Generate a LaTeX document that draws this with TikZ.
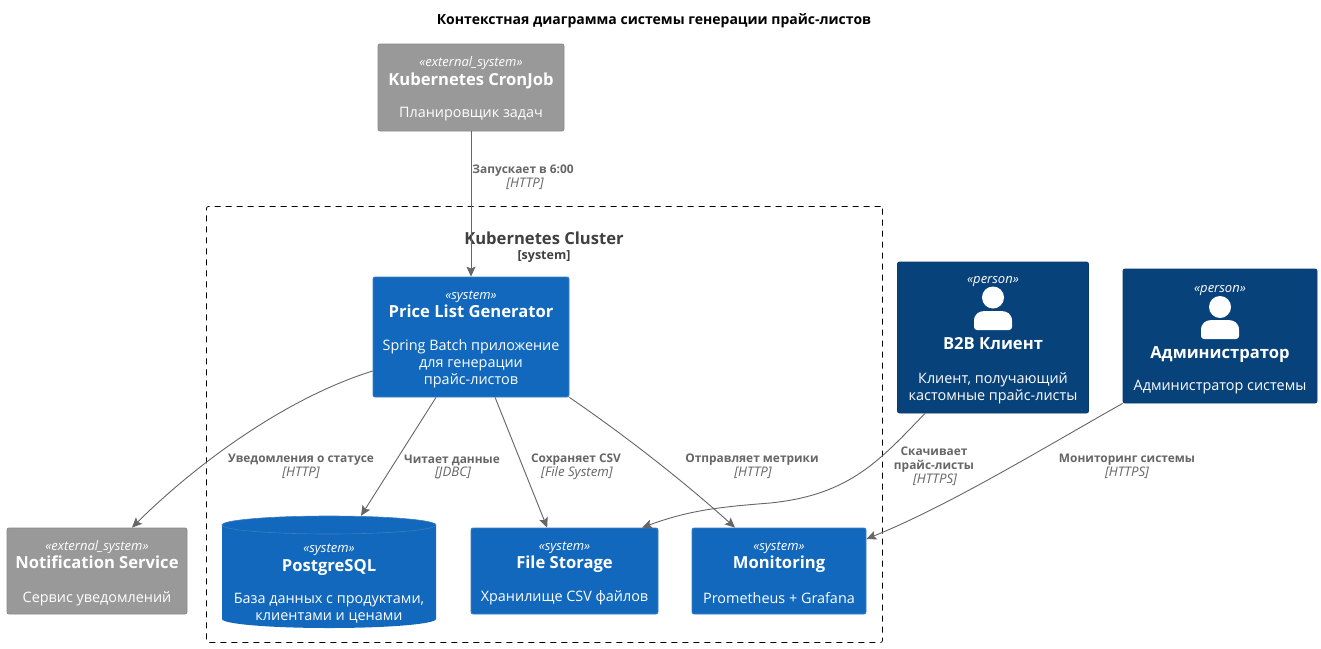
\documentclass[tikz,border=0pt]{standalone}
\usepackage{fontspec}
\setmainfont{Open Sans}
\usepackage{tikz}
\usetikzlibrary{calc}
\usetikzlibrary{arrows.meta}
\definecolor{sysblue}{HTML}{1168BD}
\definecolor{sysline}{HTML}{3C7FC0}
\definecolor{persblue}{HTML}{08427B}
\definecolor{persline}{HTML}{073B6F}
\definecolor{extgray}{HTML}{999999}
\definecolor{extline}{HTML}{8A8A8A}
\definecolor{relgray}{HTML}{666666}
\tikzstyle{box}=[rectangle,rounded corners=2pt,line width=0.8pt,inner sep=0pt]
\tikzstyle{sysbox}=[box,fill=sysblue,draw=sysline]
\tikzstyle{persbox}=[box,fill=persblue,draw=persline]
\tikzstyle{extbox}=[box,fill=extgray,draw=extline]
\tikzstyle{stereo}=[text=white,font=\fontsize{13}{15}\selectfont\itshape,inner sep=0pt,text height=10pt,text depth=3pt,yshift=-0.7pt]
\tikzstyle{boxname}=[text=white,font=\fontsize{16.6}{20}\selectfont\bfseries,inner sep=0pt,text height=12pt,text depth=3.5pt,yshift=-2pt]
\tikzstyle{boxdesc}=[text=white,font=\fontsize{14.4}{17}\selectfont,align=center,inner sep=0pt,yshift=-1.5pt]
\tikzstyle{rel}=[line width=0.9pt,draw=relgray,-{Stealth[length=10pt,width=9pt,inset=2pt]}]
\tikzstyle{rellabel}=[text=relgray,font=\fontsize{11.9}{14}\selectfont\bfseries,align=center,inner sep=0pt,yshift=-2pt]
\tikzstyle{reltech}=[text=relgray,font=\fontsize{13.2}{14}\selectfont\itshape,inner sep=0pt,text height=10pt,text depth=3.5pt,yshift=-1pt]
\begin{document}
\begin{tikzpicture}[x=1pt,y=-1pt]
	\useasboundingbox (0,0) rectangle (1321,648);
	\fill[white] (0,0) rectangle (1321,648);

	\node (title) at (654,21) [font=\fontsize{14}{17}\selectfont\bfseries,inner sep=0pt] {Контекстная диаграмма системы генерации прайс-листов};

	% cluster
	\node (cluster) at (544.5,424.5) [rectangle,rounded corners=2pt,draw=black,dash pattern=on 6pt off 5pt,line width=0.8pt,minimum width=676pt,minimum height=436pt,inner sep=0pt] {};
	\node (clustername) at (544,238.5) [text=black!75,font=\fontsize{16.6}{20}\selectfont\bfseries,inner sep=0pt] {Kubernetes Cluster};
	\node (clustertype) at (544,257) [text=black!75,font=\fontsize{12.5}{14}\selectfont\bfseries,inner sep=0pt] {[system]};

	% boxes
	\node (cron) at (471,87.5) [extbox,minimum width=186pt,minimum height=87pt] {};
	\node (gen) at (471,337) [sysbox,minimum width=196pt,minimum height=120pt] {};
	\node (notify) at (97,571) [extbox,minimum width=180pt,minimum height=86pt] {};
	\node (pg) at (329,572) [rectangle,minimum width=214pt,minimum height=112pt,inner sep=0pt] {};
	\fill[sysblue] (222,525) arc[x radius=107,y radius=9,start angle=180,end angle=360] -- (436,619) arc[x radius=107,y radius=9,start angle=0,end angle=180] -- cycle;
	\draw[sysline,line width=0.6pt] (222,525) arc[x radius=107,y radius=9,start angle=180,end angle=540];
	\node (files) at (564.5,571) [sysbox,minimum width=187pt,minimum height=86pt] {};
	\node (mon) at (779,571) [sysbox,minimum width=174pt,minimum height=86pt] {};
	\node (b2b) at (993,337.5) [persbox,minimum width=191pt,minimum height=151pt] {};
	\node (admin) at (1220,336) [persbox,minimum width=194pt,minimum height=134pt] {};

	% box texts
	\node (cron1) at (471,62) [stereo] {«external\_system»};
	\node (cron2) at (471,79) [boxname] {Kubernetes CronJob};
	\node (cron3) at (471,113) [boxdesc] {Планировщик задач};

	\node (gen1) at (471,295) [stereo] {«system»};
	\node (gen2) at (471,311) [boxname] {Price List Generator};
	\node (gen3) at (471,362) [boxdesc] {Spring Batch приложение\\для генерации\\прайс-листов};

	\node (notify1) at (97,546) [stereo] {«external\_system»};
	\node (notify2) at (97,562) [boxname] {Notification Service};
	\node (notify3) at (97,597) [boxdesc] {Сервис уведомлений};

	\node (pg1) at (329,548) [stereo] {«system»};
	\node (pg2) at (329,565) [boxname] {PostgreSQL};
	\node (pg3) at (329,606.5) [boxdesc] {База данных с продуктами,\\клиентами и ценами};

	\node (files1) at (564.5,546) [stereo] {«system»};
	\node (files2) at (564.5,562) [boxname] {File Storage};
	\node (files3) at (564.5,596.5) [boxdesc] {Хранилище CSV файлов};

	\node (mon1) at (779,546) [stereo] {«system»};
	\node (mon2) at (779,562) [boxname] {Monitoring};
	\node (mon3) at (779,596.5) [boxdesc] {Prometheus + Grafana};

	\node (b2b1) at (993,279) [stereo] {«person»};
	\node (b2b2) at (993,343) [boxname] {B2B Клиент};
	\node (b2b3) at (993,386.5) [boxdesc] {Клиент, получающий\\кастомные прайс-листы};

	\node (admin1) at (1220,288) [stereo] {«person»};
	\node (admin2) at (1220,352) [boxname] {Администратор};
	\node (admin3) at (1220,386) [boxdesc] {Администратор системы};

	% person icons
	\fill[white] (993,297.5) circle (11);
	\fill[white] (977,330) arc[radius=3,start angle=90,end angle=180] -- (974,321) .. controls (974,314) and (979,311) .. (985,311) -- (1001,311) .. controls (1007,311) and (1012,314) .. (1012,321) -- (1012,327) arc[radius=3,start angle=0,end angle=90] -- cycle;
	\fill[white] (1220,307) circle (11);
	\fill[white] (1204,339) arc[radius=3,start angle=90,end angle=180] -- (1201,330) .. controls (1201,323) and (1206,320) .. (1212,320) -- (1228,320) .. controls (1234,320) and (1239,323) .. (1239,330) -- (1239,336) arc[radius=3,start angle=0,end angle=90] -- cycle;

	% connectors
	\draw[rel] (cron)--(gen);
	\draw[rel] (gen)--(files);
	\draw[rel] ($(gen.south)+(-35,0)$)--($(pg.north)+(32,0)$);
	\draw[rel] ($(gen.west)+(0,34)$) .. controls (280,400) and (190,470) .. ($(notify.north)+(35,0)$);
	\draw[rel] (gen.south east) .. controls (620,432) and (680,478) .. ($(mon.north)+(-44,0)$);
	\draw[rel] ($(b2b.south)+(-68,0)$) .. controls (880,460) and (850,495) .. (770,503) .. controls (720,507) and (690,510) .. ($(files.north)+(77.5,0)$);
	\draw[rel] (admin.south west) .. controls (1040,450) and (950,505) .. ($(mon.east)+(0,-32)$);

	% connector labels
	\node (lcron) at (523,169) [rellabel] {Запускает в 6:00};
	\node (tcron) at (525,183) [reltech] {[HTTP]};
	\node (lnotify) at (301,458) [rellabel] {Уведомления о статусе};
	\node (tnotify) at (301,472) [reltech] {[HTTP]};
	\node (lpg) at (452,458) [rellabel] {Читает данные};
	\node (tpg) at (453,472) [reltech] {[JDBC]};
	\node (lfiles) at (576,458) [rellabel] {Сохраняет CSV};
	\node (tfiles) at (577,472) [reltech] {[File System]};
	\node (lmon) at (752,458) [rellabel] {Отправляет метрики};
	\node (tmon) at (753,472) [reltech] {[HTTP]};
	\node (lb2b) at (934,458) [rellabel] {Скачивает\\прайс-листы};
	\node (tb2b) at (935,479) [reltech] {[HTTPS]};
	\node (ladmin) at (1127,458) [rellabel] {Мониторинг системы};
	\node (tadmin) at (1127,472) [reltech] {[HTTPS]};
\end{tikzpicture}
\end{document}
